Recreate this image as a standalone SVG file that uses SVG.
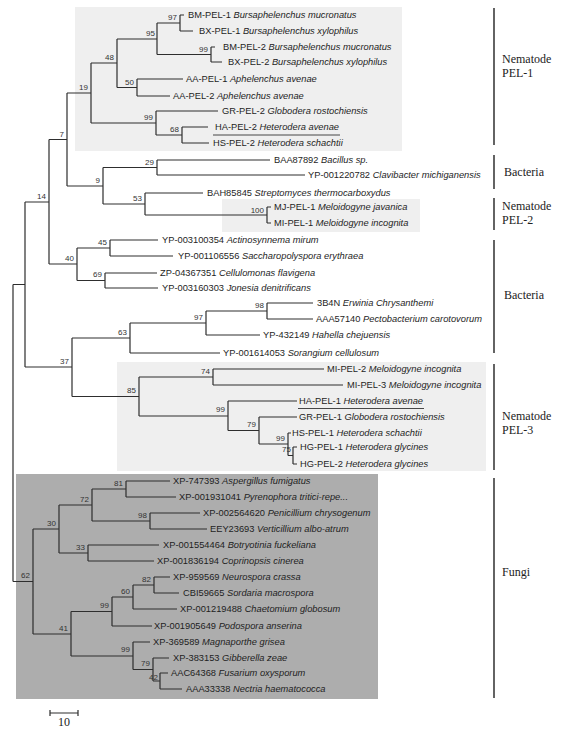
<svg xmlns="http://www.w3.org/2000/svg" width="561" height="729" viewBox="0 0 561 729">
<style>
.br{fill:none;stroke:#2e2e2e;stroke-width:1.2}
.lf{font-family:"Liberation Sans",Arial,sans-serif;font-size:9.3px;fill:#1e1e1e}
.lf tspan{font-style:italic}
.bs{font-family:"Liberation Sans",Arial,sans-serif;font-size:8px;fill:#333;text-anchor:end}
.cl{font-family:"Liberation Serif","Times New Roman",serif;font-size:12px;fill:#222}
.bar{stroke:#222;stroke-width:1.4}
.ul{stroke:#333;stroke-width:0.9}
</style>
<rect id="box-pel1" x="75" y="7" width="327" height="144" fill="#efefef"/>
<rect id="box-pel2" x="222" y="199" width="198" height="33" fill="#efefef"/>
<rect id="box-pel3" x="117" y="362" width="369" height="109" fill="#efefef"/>
<rect id="box-fungi" x="16" y="474" width="362" height="225" fill="#adadad"/>
<g id="connectors">
<path class="br" d="M180 15V31M180 15H184M180 31H193
M211 47V62M211 47H215M211 62H222
M157 23V54.5M157 23H180M157 54.5H211
M137 79V96M137 79H183M137 96H170
M117 39V87.5M117 39H157M117 87.5H137
M182 127V143M182 127H208M182 143H209
M156 111V135M156 111H218M156 135H182
M91 63V123M91 63H117M91 123H156
M157 160V175M157 160H270M157 175H305
M267 207V223M267 207H271M267 223H271
M145 193V215M145 193H203M145 215H267
M103 167.5V204M103 167.5H157M103 204H145
M67 93V186M67 93H91M67 186H103
M110 240V256M110 240H158M110 256H173
M105 273V288M105 273H157M105 288H158
M77 248V280.5M77 248H110M77 280.5H105
M49 139.5V264M49 139.5H67M49 264H77
M267 303V319M267 303H313M267 319H313
M206 311V335M206 311H267M206 335H260
M130 323V353M130 323H206M130 353H220
M213 369V385M213 369H324M213 385H343
M293 447V464M293 447H297M293 464H297
M288 433V455.5M288 433H291M288 455.5H293
M259 417V444M259 417H297M259 444H288
M228 401V430.5M228 401H297M228 430.5H259
M139 377V416M139 377H213M139 416H228
M72 338V396.5M72 338H130M72 396.5H139
M25 202V367M25 202H49M25 367H72
M126 481V497M126 481H170M126 497H176
M150 513V529M150 513H200M150 529H207
M92 489V521M92 489H126M92 521H150
M88 545V561M88 545H159M88 561H154
M59 505V553M59 505H92M59 553H88
M154 577V593M154 577H170M154 593H179
M133 585V609M133 585H154M133 609H177
M112 597V626M112 597H133M112 626H152
M160 673V689M160 673H168M160 689H182
M153 658V681M153 658H169M153 681H160
M133 642V669.5M133 642H150M133 669.5H153
M71 611.5V656M71 611.5H112M71 656H133
M33 529V634M33 529H59M33 634H71
M13 284.5V581.5M13 284.5H25M13 581.5H33"/>
</g>
<g id="bootstrap">
<text class="bs" x="177" y="20">97</text>
<text class="bs" x="208" y="52">99</text>
<text class="bs" x="155" y="36">95</text>
<text class="bs" x="134" y="85">50</text>
<text class="bs" x="114" y="60">48</text>
<text class="bs" x="179" y="132">68</text>
<text class="bs" x="153" y="120">99</text>
<text class="bs" x="88" y="90">19</text>
<text class="bs" x="64" y="137">7</text>
<text class="bs" x="154" y="165">29</text>
<text class="bs" x="100" y="183">9</text>
<text class="bs" x="142" y="201">53</text>
<text class="bs" x="264" y="213">100</text>
<text class="bs" x="46" y="199">14</text>
<text class="bs" x="107" y="245">45</text>
<text class="bs" x="74" y="261">40</text>
<text class="bs" x="102" y="277">69</text>
<text class="bs" x="264" y="308">98</text>
<text class="bs" x="203" y="320">97</text>
<text class="bs" x="127" y="335">63</text>
<text class="bs" x="69" y="364">37</text>
<text class="bs" x="210" y="374">74</text>
<text class="bs" x="136" y="393">85</text>
<text class="bs" x="225" y="412">99</text>
<text class="bs" x="256" y="427">79</text>
<text class="bs" x="285" y="441">99</text>
<text class="bs" x="291" y="452">75</text>
<text class="bs" x="123" y="486">81</text>
<text class="bs" x="89" y="502">72</text>
<text class="bs" x="147" y="518">98</text>
<text class="bs" x="56" y="526">30</text>
<text class="bs" x="85" y="550">33</text>
<text class="bs" x="30" y="578">62</text>
<text class="bs" x="151" y="582">82</text>
<text class="bs" x="130" y="594">60</text>
<text class="bs" x="109" y="608">99</text>
<text class="bs" x="68" y="631">41</text>
<text class="bs" x="130" y="652">99</text>
<text class="bs" x="150" y="666">79</text>
<text class="bs" x="158" y="680">42</text>
</g>
<g id="leaf-BM-PEL-1"><text class="lf" x="188" y="18.3">BM-PEL-1 <tspan>Bursaphelenchus mucronatus</tspan></text></g>
<g id="leaf-BX-PEL-1"><text class="lf" x="199" y="34.3">BX-PEL-1 <tspan>Bursaphelenchus xylophilus</tspan></text></g>
<g id="leaf-BM-PEL-2"><text class="lf" x="223" y="50.3">BM-PEL-2 <tspan>Bursaphelenchus mucronatus</tspan></text></g>
<g id="leaf-BX-PEL-2"><text class="lf" x="228" y="65.3">BX-PEL-2 <tspan>Bursaphelenchus xylophilus</tspan></text></g>
<g id="leaf-AA-PEL-1"><text class="lf" x="186" y="82.3">AA-PEL-1 <tspan>Aphelenchus avenae</tspan></text></g>
<g id="leaf-AA-PEL-2"><text class="lf" x="173" y="99.3">AA-PEL-2 <tspan>Aphelenchus avenae</tspan></text></g>
<g id="leaf-GR-PEL-2"><text class="lf" x="222" y="114.3">GR-PEL-2 <tspan>Globodera rostochiensis</tspan></text></g>
<g id="leaf-HA-PEL-2"><text class="lf" x="215" y="130.3">HA-PEL-2 <tspan>Heterodera avenae</tspan></text><line class="ul" x1="213" y1="135" x2="340" y2="135"/></g>
<g id="leaf-HS-PEL-2"><text class="lf" x="213" y="146.3">HS-PEL-2 <tspan>Heterodera schachtii</tspan></text></g>
<g id="leaf-BAA87892"><text class="lf" x="274" y="163.3">BAA87892 <tspan>Bacillus sp.</tspan></text></g>
<g id="leaf-YP-001220782"><text class="lf" x="308" y="178.3">YP-001220782 <tspan>Clavibacter michiganensis</tspan></text></g>
<g id="leaf-BAH85845"><text class="lf" x="207" y="196.3">BAH85845 <tspan>Streptomyces thermocarboxydus</tspan></text></g>
<g id="leaf-MJ-PEL-1"><text class="lf" x="274" y="210.3">MJ-PEL-1 <tspan>Meloidogyne javanica</tspan></text></g>
<g id="leaf-MI-PEL-1"><text class="lf" x="274" y="226.3">MI-PEL-1 <tspan>Meloidogyne incognita</tspan></text></g>
<g id="leaf-YP-003100354"><text class="lf" x="162" y="243.3">YP-003100354 <tspan>Actinosynnema mirum</tspan></text></g>
<g id="leaf-YP-001106556"><text class="lf" x="178" y="259.3">YP-001106556 <tspan>Saccharopolyspora erythraea</tspan></text></g>
<g id="leaf-ZP-04367351"><text class="lf" x="160" y="276.3">ZP-04367351 <tspan>Cellulomonas flavigena</tspan></text></g>
<g id="leaf-YP-003160303"><text class="lf" x="162" y="291.3">YP-003160303 <tspan>Jonesia denitrificans</tspan></text></g>
<g id="leaf-3B4N"><text class="lf" x="317" y="306.3">3B4N <tspan>Erwinia Chrysanthemi</tspan></text></g>
<g id="leaf-AAA57140"><text class="lf" x="316" y="322.3">AAA57140 <tspan>Pectobacterium carotovorum</tspan></text></g>
<g id="leaf-YP-432149"><text class="lf" x="263" y="338.3">YP-432149 <tspan>Hahella chejuensis</tspan></text></g>
<g id="leaf-YP-001614053"><text class="lf" x="223" y="356.3">YP-001614053 <tspan>Sorangium cellulosum</tspan></text></g>
<g id="leaf-MI-PEL-2"><text class="lf" x="327" y="372.3">MI-PEL-2 <tspan>Meloidogyne incognita</tspan></text></g>
<g id="leaf-MI-PEL-3"><text class="lf" x="347" y="388.3">MI-PEL-3 <tspan>Meloidogyne incognita</tspan></text></g>
<g id="leaf-HA-PEL-1"><text class="lf" x="299" y="404.3">HA-PEL-1 <tspan>Heterodera avenae</tspan></text><line class="ul" x1="298" y1="408.5" x2="424" y2="408.5"/></g>
<g id="leaf-GR-PEL-1"><text class="lf" x="299" y="420.3">GR-PEL-1 <tspan>Globodera rostochiensis</tspan></text></g>
<g id="leaf-HS-PEL-1"><text class="lf" x="292" y="436.3">HS-PEL-1 <tspan>Heterodera schachtii</tspan></text></g>
<g id="leaf-HG-PEL-1"><text class="lf" x="300" y="450.3">HG-PEL-1 <tspan>Heterodera glycines</tspan></text></g>
<g id="leaf-HG-PEL-2"><text class="lf" x="300" y="467.3">HG-PEL-2 <tspan>Heterodera glycines</tspan></text></g>
<g id="leaf-XP-747393"><text class="lf" x="173" y="484.3">XP-747393 <tspan>Aspergillus fumigatus</tspan></text></g>
<g id="leaf-XP-001931041"><text class="lf" x="179" y="500.3">XP-001931041 <tspan>Pyrenophora tritici-repe...</tspan></text></g>
<g id="leaf-XP-002564620"><text class="lf" x="203" y="516.3">XP-002564620 <tspan>Penicillium chrysogenum</tspan></text></g>
<g id="leaf-EEY23693"><text class="lf" x="210" y="532.3">EEY23693 <tspan>Verticillium albo-atrum</tspan></text></g>
<g id="leaf-XP-001554464"><text class="lf" x="163" y="548.3">XP-001554464 <tspan>Botryotinia fuckeliana</tspan></text></g>
<g id="leaf-XP-001836194"><text class="lf" x="157" y="564.3">XP-001836194 <tspan>Coprinopsis cinerea</tspan></text></g>
<g id="leaf-XP-959569"><text class="lf" x="173" y="580.3">XP-959569 <tspan>Neurospora crassa</tspan></text></g>
<g id="leaf-CBI59665"><text class="lf" x="183" y="596.3">CBI59665 <tspan>Sordaria macrospora</tspan></text></g>
<g id="leaf-XP-001219488"><text class="lf" x="180" y="612.3">XP-001219488 <tspan>Chaetomium globosum</tspan></text></g>
<g id="leaf-XP-001905649"><text class="lf" x="154" y="629.3">XP-001905649 <tspan>Podospora anserina</tspan></text></g>
<g id="leaf-XP-369589"><text class="lf" x="153" y="645.3">XP-369589 <tspan>Magnaporthe grisea</tspan></text></g>
<g id="leaf-XP-383153"><text class="lf" x="173" y="661.3">XP-383153 <tspan>Gibberella zeae</tspan></text></g>
<g id="leaf-AAC64368"><text class="lf" x="171" y="676.3">AAC64368 <tspan>Fusarium oxysporum</tspan></text></g>
<g id="leaf-AAA33338"><text class="lf" x="186" y="692.3">AAA33338 <tspan>Nectria haematococca</tspan></text></g>
<g id="clade-nematode-pel1"><line class="bar" x1="494" y1="8" x2="494" y2="145"/><text class="cl" x="502" y="63">Nematode</text><text class="cl" x="502" y="77">PEL-1</text></g>
<g id="clade-bacteria-1"><line class="bar" x1="494" y1="155" x2="494" y2="189"/><text class="cl" x="504" y="176">Bacteria</text></g>
<g id="clade-nematode-pel2"><line class="bar" x1="494" y1="198" x2="494" y2="230"/><text class="cl" x="502" y="210">Nematode</text><text class="cl" x="502" y="224">PEL-2</text></g>
<g id="clade-bacteria-2"><line class="bar" x1="494" y1="240" x2="494" y2="353"/><text class="cl" x="504" y="299">Bacteria</text></g>
<g id="clade-nematode-pel3"><line class="bar" x1="494" y1="364" x2="494" y2="470"/><text class="cl" x="502" y="420">Nematode</text><text class="cl" x="502" y="434">PEL-3</text></g>
<g id="clade-fungi"><line class="bar" x1="494" y1="478" x2="494" y2="698"/><text class="cl" x="502" y="576">Fungi</text></g>
<g id="scale-bar"><path class="br" d="M50 713H78M50 710V716M78 710V716"/><text class="cl" x="64" y="726" text-anchor="middle">10</text></g>
</svg>
